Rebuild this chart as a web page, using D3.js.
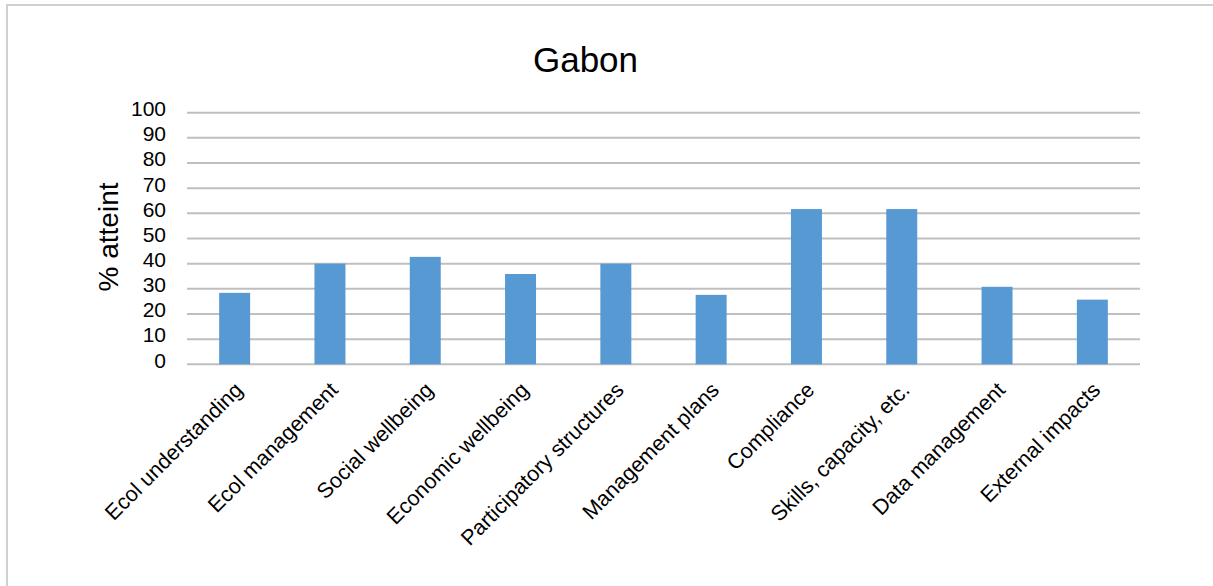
<!DOCTYPE html>
<html lang="en">
<head>
<meta charset="utf-8">
<title>Gabon</title>
<script src="https://cdn.jsdelivr.net/npm/d3@7"></script>
<style>
body { margin: 0; background: #ffffff; }
text { font-family: "Liberation Sans", Arial, Helvetica, sans-serif; fill: #000; }
</style>
</head>
<body>
<svg id="chart"></svg>
<script>
// data
var categories = ["Ecol understanding", "Ecol management", "Social wellbeing", "Economic wellbeing",
    "Participatory structures", "Management plans", "Compliance", "Skills, capacity, etc.",
    "Data management", "External impacts"];
var values = [28.4, 40, 42.7, 35.9, 40, 27.6, 61.7, 61.7, 30.8, 25.7];
var yTicks = [0, 10, 20, 30, 40, 50, 60, 70, 80, 90, 100];

var width = 1213;
var height = 586;

var svg = d3.select("#chart")
    .attr("width", width)
    .attr("height", height);

// outer frame
svg.append("rect")
    .attr("x", 7)
    .attr("y", 5)
    .attr("width", width)
    .attr("height", height)
    .attr("fill", "white")
    .attr("stroke", "#d0d0d0")
    .attr("stroke-width", 2);

var x = d3.scaleBand()
    .domain(categories)
    .range([187, 1140]);

var y = d3.scaleLinear()
    .domain([0, 100])
    .range([364.3, 112.7]);

// gridlines
svg.append("g")
    .selectAll("line")
    .data(yTicks)
    .enter()
    .append("line")
    .attr("x1", 187)
    .attr("x2", 1140)
    .attr("y1", d => y(d))
    .attr("y2", d => y(d))
    .attr("stroke", "#bfbfbf")
    .attr("stroke-width", 2);

// tick labels
svg.append("g")
    .selectAll("text")
    .data(yTicks)
    .enter()
    .append("text")
    .attr("x", 166)
    .attr("y", d => y(d) - 4)
    .attr("dy", "0.35em")
    .attr("text-anchor", "end")
    .style("font-size", "21px")
    .text(d => d);

// bars
var barW = x.bandwidth() * 0.325;
svg.append("g")
    .selectAll("rect")
    .data(values)
    .enter()
    .append("rect")
    .attr("x", (d, i) => x(categories[i]) + x.bandwidth() / 2 - barW / 2)
    .attr("y", d => y(d))
    .attr("width", barW)
    .attr("height", d => y(0) - y(d))
    .attr("fill", "#5799d3");

// category labels, rotated
svg.append("g")
    .selectAll("text")
    .data(categories)
    .enter()
    .append("text")
    .attr("transform", d => "translate(" + (x(d) + x.bandwidth() / 2 + 4) + ",386) rotate(-45)")
    .attr("dy", "0.35em")
    .attr("text-anchor", "end")
    .style("font-size", "21.5px")
    .text(d => d);

// title
svg.append("text")
    .attr("x", 585.5)
    .attr("y", 72)
    .attr("text-anchor", "middle")
    .style("font-size", "35px")
    .text("Gabon");

// y axis title
svg.append("text")
    .attr("transform", "translate(118,237) rotate(-90)")
    .attr("text-anchor", "middle")
    .style("font-size", "28px")
    .text("% atteint");
</script>
</body>
</html>
